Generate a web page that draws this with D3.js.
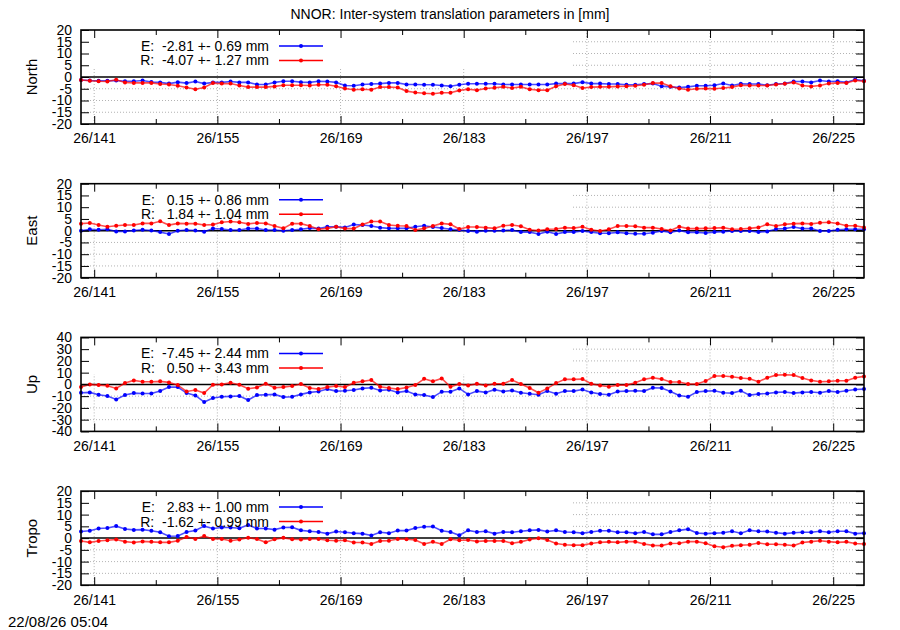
<!DOCTYPE html>
<html>
<head>
<meta charset="utf-8">
<script src="https://cdn.jsdelivr.net/npm/d3@7"></script>
<style>
	body { margin: 0; background: #fff; }
	svg { display: block; font-family: "Liberation Sans", Arial, sans-serif; }
</style>
</head>
<body>
<svg id="chart" width="900" height="630"></svg>
<script>
// day of year 2026, one value per day (plotted at noon)
var days = [139, 140, 141, 142, 143, 144, 145, 146, 147, 148, 149, 150, 151, 152, 153,
	154, 155, 156, 157, 158, 159, 160, 161, 162, 163, 164, 165, 166, 167, 168, 169, 170,
	171, 172, 173, 174, 175, 176, 177, 178, 179, 180, 181, 182, 183, 184, 185, 186, 187,
	188, 189, 190, 191, 192, 193, 194, 195, 196, 197, 198, 199, 200, 201, 202, 203, 204,
	205, 206, 207, 208, 209, 210, 211, 212, 213, 214, 215, 216, 217, 218, 219, 220, 221,
	222, 223, 224, 225, 226, 227, 228
];
var majorDays = [141, 155, 169, 183, 197, 211, 225];
var minorDays = [148, 162, 176, 190, 204, 218];

var panelNames = ["North", "East", "Up", "Tropo"];
var panelRange = [20, 20, 40, 20];
var panelStep = [5, 5, 10, 5];

var meanE = [-2.81, 0.15, -7.45, 2.83];
var sdE = [0.69, 0.86, 2.44, 1.00];
var meanR = [-4.07, 1.84, 0.50, -1.62];
var sdR = [1.27, 1.04, 3.43, 0.99];

var northE = [-1.3, -1.5, -1.6, -1.6, -1.5, -1.8, -1.8, -1.5, -2.1, -2.3, -2.8, -2.2, -2.6, -1.9, -2.8,
	-2.3, -2.3, -1.9, -2.3, -2.3, -3.2, -3.2, -2.3, -1.8, -1.8, -2.2, -2.3, -1.8, -1.9, -2.3, -3.6,
	-3.7, -3.2, -3.0, -2.8, -2.5, -2.5, -3.2, -3.2, -3.3, -3.3, -3.6,
	-3.9, -3.3, -2.9, -2.9, -2.9, -2.9, -3.2, -3.2, -3.2, -3.2, -3.2, -3.2, -2.8, -2.8, -2.8, -2.2,
	-2.8, -2.8, -3.0, -3.0, -3.3, -3.3, -3.0, -2.8, -3.9, -4.2, -4.5, -4.2, -3.7, -3.7, -3.5, -2.8,
	-3.6, -2.9, -3.0, -3.0, -3.5, -3.0, -2.8, -1.9, -1.9, -2.3, -1.5, -1.9, -1.8, -2.3, -1.1, -1.6
];
var northR = [-1.3, -1.6, -1.8, -1.9, -1.2, -2.3, -2.5, -2.5, -2.5, -3.0, -3.2, -3.7, -4.5, -5.2, -4.5,
	-2.6, -2.8, -2.8, -3.6, -4.3, -4.3, -4.3, -4.0, -3.5, -3.5, -3.5, -3.6, -3.3, -3.3, -3.9, -4.9,
	-5.4, -5.2, -5.4, -4.3, -4.3, -4.5, -6.0, -6.6, -6.9, -7.1, -6.7,
	-6.7, -5.7, -5.2, -5.6, -4.9, -4.6, -4.2, -4.7, -4.2, -5.2, -5.6, -5.6, -3.9, -3.0, -3.5, -4.7,
	-4.3, -4.2, -4.2, -4.0, -3.9, -3.7, -3.3, -2.6, -2.6, -3.9, -4.9, -5.4, -5.0, -4.9, -5.0, -4.7,
	-4.3, -3.5, -3.6, -3.6, -3.6, -3.2, -2.9, -2.3, -3.6, -4.0, -3.6, -2.8, -2.5, -2.5, -1.5, -1.8
];
var eastE = [0, 0.6, 0.4, 0.6, -0.3, -0.3, 0.1, 0.4, 0.1, -0.6, -1.4, 0, 0.3, 0.1, -0.4, 0.9, 0.7,
	0.3, 0.3, 0.9, 0.9, 0.3, 0.3, 0, 0.3, 0.6, 1.1, 0.9, 1.7, 1.7, 1.4, 2.6, 2.4, 2.0, 1.3, 1.0,
	1.0, 1.0, 1.7, 2.1, 1.6, 1.1,
	0.6, 0.3, -0.1, -0.4, 0, 0, 0.1, 0.3, -0.6, -0.6, -1.4, -0.4, -1.4, -0.6, -0.6, -0.1, -0.6,
	-1.1, -1.1, -0.7, -1.1, -1.3, -1.3, -0.9, -0.1, -0.7, 0.1, -0.7, -0.7, -1.0, -0.6, -0.4, -0.1,
	-0.1, -0.1, -0.6, -0.3, 0.7, 0.9, 1.6, 0.9, 0.9, -0.1, -0.1, 0.4, 0.6, 0.6, 0.6
];
var eastR = [3.0, 3.3, 2.4, 1.7, 2.1, 2.4, 2.4, 3.1, 3.1, 4.0, 2.4, 3.1, 3.0, 3.0, 2.4, 2.6, 3.6,
	3.9, 3.6, 2.9, 3.3, 3.1, 2.0, 1.0, 3.0, 3.0, 2.0, 0.6, 1.0, 1.7, 0.9, 0.9, 2.6, 3.9, 3.9, 2.4,
	2.1, 2.0, 0.3, 1.0, 2.0, 3.1,
	2.7, 0.7, 1.6, 1.6, 1.3, 1.0, 2.1, 2.4, 1.9, 0.4, 0.1, 0.6, 0.7, 1.3, 1.1, 1.7, 0.4, -0.1, 0.6,
	2.0, 2.0, 1.9, 1.3, 1.3, 0.7, 0.1, 1.7, 0.9, 0.9, 1.0, 1.1, 1.3, 0.6, 0.7, 1.0, 1.4, 2.7, 2.0,
	2.7, 3.0, 3.1, 2.9, 3.4, 3.6, 3.1, 2.1, 2.1, 1.4
];
var upE = [-7.1, -6.8, -8.8, -9.9, -12.8, -9.1, -7.4, -7.7, -7.7, -5.7, -2.3, -2.3, -7.4, -9.4,
	-15.0, -11.6, -10.5, -10.2, -9.9, -13.3, -9.1, -8.8, -8.5, -10.8, -10.5, -8.5, -6.8, -6.0, -4.0,
	-5.7, -5.4, -4.8, -3.4, -2.8, -5.1, -4.5, -6.8, -5.7, -8.5, -9.1, -10.8, -6.2,
	-6.2, -3.4, -8.5, -5.7, -6.8, -4.5, -6.0, -5.1, -7.1, -7.9, -8.8, -5.7, -7.9, -5.7, -5.7, -4.3,
	-6.8, -8.2, -8.8, -6.0, -5.7, -5.4, -5.7, -2.8, -3.1, -6.0, -9.4, -10.5, -6.5, -5.7, -5.4, -7.1,
	-7.4, -5.4, -9.1, -8.2, -7.7, -6.8, -6.5, -7.4, -6.8, -6.5, -7.1, -5.7, -6.5, -5.4, -4.3, -4.0
];
var upR = [-2.3, 0, -0.6, -1.1, -3.4, 1.1, 3.4, 2.3, 2.3, 2.6, 1.7, -0.6, -6.0, -4.8, -7.4, -0.3,
	0, 1.4, -0.3, -3.7, -2.6, 0.6, -2.8, -2.3, -1.4, 0.3, -3.1, -4.0, -2.3, -1.4, -2.3, 1.4, 2.6,
	3.7, -2.0, -3.1, -4.0, -2.6, -0.6, 4.8, 2.6, 5.1,
	-2.0, 0.3, -0.9, 0.6, -0.9, 0.6, 0.6, 3.7, 0.3, -3.1, -7.1, -3.4, 1.1, 4.3, 4.3, 4.5, 0.6, -0.9,
	-2.0, -0.6, -0.6, 1.4, 4.3, 5.7, 4.5, 2.0, 2.0, 0.3, 0.3, 2.8, 7.1, 7.1, 6.5, 5.4, 4.8, 2.3,
	5.7, 7.9, 8.2, 7.9, 5.4, 3.4, 2.3, 2.6, 3.1, 3.1, 5.7, 6.8
];
var tropoE = [2.8, 3.1, 4.1, 4.3, 5.1, 3.9, 3.5, 3.6, 3.1, 2.5, 0.8, 0.9, 2.6, 3.2, 5.1, 4.1, 4.5,
	4.5, 4.2, 5.6, 4.1, 4.1, 3.6, 4.5, 4.6, 3.3, 2.9, 2.6, 1.9, 2.8, 2.5, 2.1, 1.9, 1.1, 2.5, 2.1,
	3.2, 3.2, 4.3, 4.8, 4.9, 3.1,
	2.6, 1.2, 3.3, 2.6, 2.9, 1.9, 2.6, 2.5, 2.9, 3.3, 3.5, 2.8, 3.3, 2.6, 2.5, 2.1, 2.6, 3.1, 3.1,
	2.5, 2.5, 2.1, 2.6, 1.6, 1.6, 2.6, 3.3, 3.8, 2.2, 1.9, 2.1, 2.3, 2.9, 2.1, 3.3, 2.9, 2.8, 2.3,
	1.9, 2.3, 2.5, 2.5, 2.9, 2.5, 2.9, 2.9, 1.9, 2.1
];
var tropoR = [-1.2, -1.8, -1.2, -0.9, -0.6, -1.5, -1.9, -1.4, -1.6, -1.8, -1.8, -1.1, 0.5, -0.4,
	0.9, -0.4, -0.4, -1.1, -0.6, 0.2, -0.4, -1.8, -0.5, 0.1, -0.5, -0.6, -0.4, -0.4, -0.9, -1.1,
	-0.9, -1.9, -1.9, -2.5, -1.2, -1.1, -0.4, -0.5, -0.8, -2.5, -1.6, -2.5,
	-0.5, -0.9, -0.8, -1.4, -1.2, -1.2, -1.2, -2.2, -1.6, -0.6, -0.1, -0.8, -2.3, -2.8, -3.0, -3.0,
	-2.3, -1.8, -1.6, -1.8, -1.5, -1.5, -2.5, -3.1, -3.2, -2.3, -2.2, -1.5, -1.5, -2.2, -3.5, -3.9,
	-3.3, -3.0, -2.8, -2.1, -2.6, -2.6, -2.8, -3.2, -1.9, -1.5, -1.1, -1.5, -1.8, -1.6, -2.3, -2.5
];

var seriesE = [northE, eastE, upE, tropoE];
var seriesR = [northR, eastR, upR, tropoR];

var svg = d3.select("#chart");
var left = 81, right = 864;
var panelTop = [30, 183.7, 337.4, 491.1];
var panelH = 94;

// plain ascii minus like the gnuplot output
var locale = d3.formatLocale({
	decimal: ".",
	thousands: ",",
	grouping: [3],
	currency: ["", ""],
	minus: "-"
});
var fmt = locale.format("6.2f");
var fmtTick = locale.format("d");

var xScale = d3.scaleLinear()
	.domain([days[0] + 0.5, days[days.length - 1] + 0.5])
	.range([left, right]);

svg.append("text")
	.attr("x", 450)
	.attr("y", 19)
	.attr("text-anchor", "middle")
	.style("font-size", "14px")
	.text("NNOR: Inter-system translation parameters in [mm]");

for (var p = 0; p < 4; p++) {
	drawPanel(p);
}

svg.append("text")
	.attr("x", 8)
	.attr("y", 627)
	.style("font-size", "15px")
	.text("22/08/26 05:04");

function drawPanel(p) {
	var top = panelTop[p];
	var bottom = top + panelH;
	var lim = panelRange[p];
	var yTicks = d3.range(-lim, lim + 0.1, panelStep[p]);

	var yScale = d3.scaleLinear()
		.domain([-lim, lim])
		.range([bottom, top]);

	var G = svg.append("g");

	// dotted grid
	var grid = G.append("g")
		.attr("stroke", "#a0a0a0")
		.attr("stroke-width", 0.8)
		.attr("stroke-dasharray", "1,2");
	yTicks.filter(function(v) { return v != 0 && Math.abs(v) != lim; }).forEach(function(v) {
		grid.append("line")
			.attr("x1", left).attr("x2", right)
			.attr("y1", yScale(v)).attr("y2", yScale(v));
	});
	majorDays.forEach(function(d) {
		grid.append("line")
			.attr("x1", xScale(d)).attr("x2", xScale(d))
			.attr("y1", top).attr("y2", bottom);
	});

	// opaque key box
	G.append("rect")
		.attr("x", left)
		.attr("y", top)
		.attr("width", 573 - left)
		.attr("height", 37)
		.attr("fill", "#fff");

	// zero line
	G.append("line")
		.attr("x1", left).attr("x2", right)
		.attr("y1", yScale(0)).attr("y2", yScale(0))
		.attr("stroke", "#000")
		.attr("stroke-width", 1.5);

	var line = d3.line()
		.x(function(d, i) { return xScale(days[i] + 0.5); })
		.y(function(d) { return yScale(d); });

	drawSeries(G, seriesE[p], "#0000ff", line, yScale);
	drawSeries(G, seriesR[p], "#ff0000", line, yScale);

	// frame
	G.append("rect")
		.attr("x", left)
		.attr("y", top)
		.attr("width", right - left)
		.attr("height", panelH)
		.attr("fill", "none")
		.attr("stroke", "#000")
		.attr("stroke-width", 1.6);

	G.append("g")
		.attr("transform", "translate(" + left + ",0)")
		.call(d3.axisLeft(yScale).tickValues(yTicks).tickSizeInner(-8).tickSizeOuter(0).tickPadding(9)
			.tickFormat(fmtTick));
	G.append("g")
		.attr("transform", "translate(" + right + ",0)")
		.call(d3.axisRight(yScale).tickValues(yTicks).tickSizeInner(-8).tickSizeOuter(0).tickFormat(""));

	G.append("g")
		.attr("transform", "translate(0," + bottom + ")")
		.call(d3.axisBottom(xScale).tickValues(majorDays).tickSizeInner(-8).tickSizeOuter(0).tickPadding(9.5)
			.tickFormat(function(d) { return "26/" + d; }));
	G.append("g")
		.attr("transform", "translate(0," + bottom + ")")
		.call(d3.axisBottom(xScale).tickValues(minorDays).tickSizeInner(-5).tickSizeOuter(0).tickFormat(""));
	G.append("g")
		.attr("transform", "translate(0," + top + ")")
		.call(d3.axisTop(xScale).tickValues(majorDays).tickSizeInner(-8).tickSizeOuter(0).tickFormat(""));
	G.append("g")
		.attr("transform", "translate(0," + top + ")")
		.call(d3.axisTop(xScale).tickValues(minorDays).tickSizeInner(-5).tickSizeOuter(0).tickFormat(""));

	G.selectAll(".domain").remove();
	G.selectAll(".tick line").attr("stroke", "#000").attr("stroke-width", 1);
	G.selectAll(".tick text")
		.attr("fill", "#000")
		.style("font-family", "'Liberation Sans', Arial, sans-serif")
		.style("font-size", "14px");

	G.append("text")
		.attr("transform", "translate(32," + ((top + bottom) / 2) + ") rotate(-90)")
		.attr("text-anchor", "middle")
		.attr("dy", "0.35em")
		.style("font-size", "15px")
		.text(panelNames[p]);

	// key
	var keys = [
		["E: " + fmt(meanE[p]) + " +- " + fmt(sdE[p]).trim() + " mm", "#0000ff"],
		["R: " + fmt(meanR[p]) + " +- " + fmt(sdR[p]).trim() + " mm", "#ff0000"]
	];
	for (var k = 0; k < keys.length; k++) {
		var ky = top + 16 + k * 14.5;
		G.append("text")
			.attr("x", 269)
			.attr("y", ky)
			.attr("dy", "0.35em")
			.attr("text-anchor", "end")
			.style("white-space", "pre")
			.style("font-size", "14px")
			.text(keys[k][0]);
		G.append("line")
			.attr("x1", 279).attr("x2", 323)
			.attr("y1", ky).attr("y2", ky)
			.attr("stroke", keys[k][1])
			.attr("stroke-width", 1.5);
		G.append("circle")
			.attr("cx", 301).attr("cy", ky)
			.attr("r", 2)
			.attr("fill", keys[k][1]);
	}
}

function drawSeries(G, values, color, line, yScale) {
	G.append("path")
		.datum(values)
		.attr("d", line)
		.attr("fill", "none")
		.attr("stroke", color)
		.attr("stroke-opacity", 0.7)
		.attr("stroke-width", 1.6);
	G.selectAll(null)
		.data(values)
		.enter()
		.append("circle")
		.attr("cx", function(d, i) { return xScale(days[i] + 0.5); })
		.attr("cy", function(d) { return yScale(d); })
		.attr("r", 2)
		.attr("fill", color);
}
</script>
</body>
</html>
